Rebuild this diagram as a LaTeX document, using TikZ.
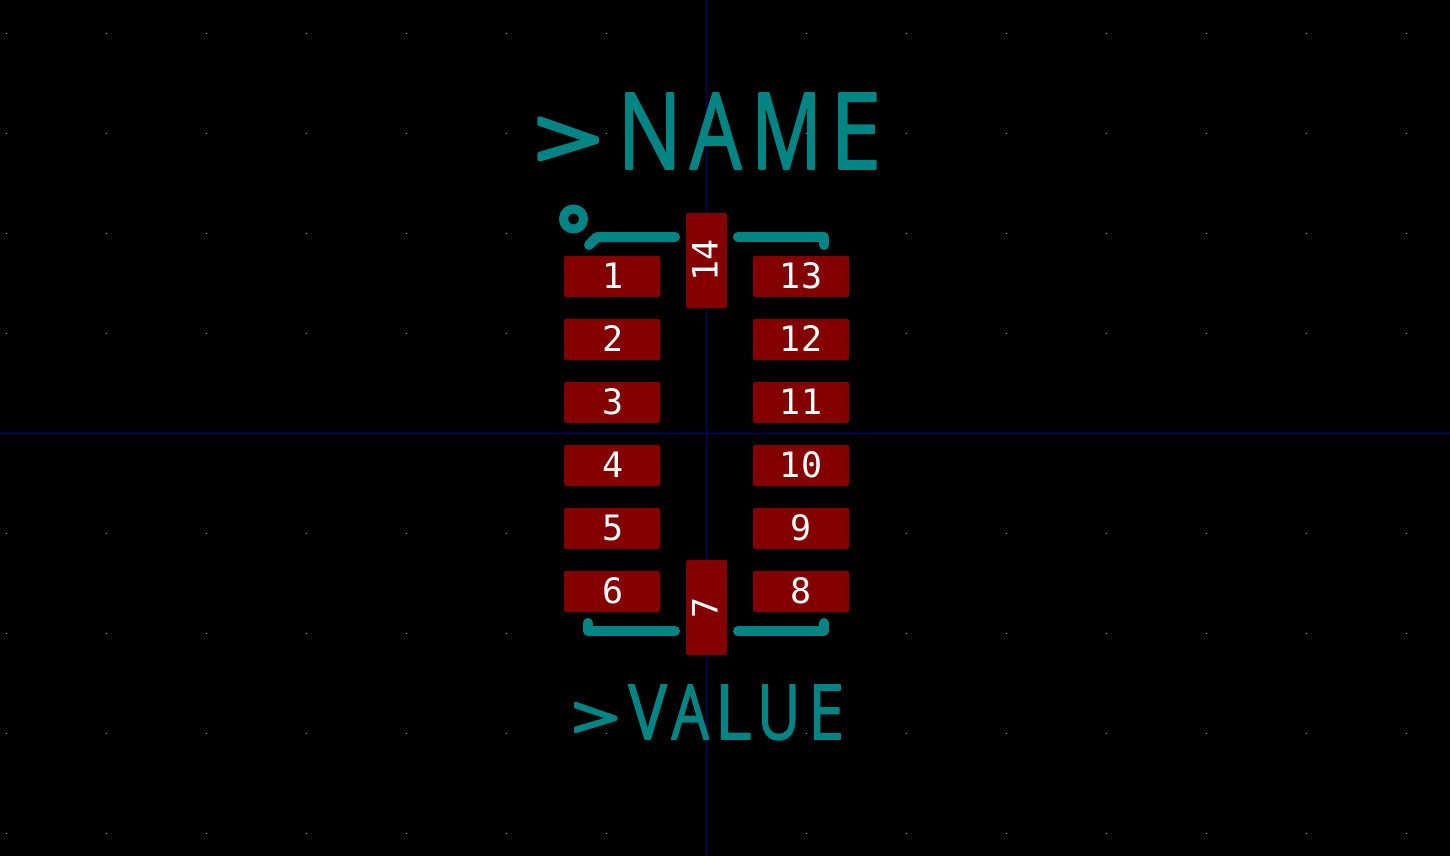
\documentclass[tikz,border=0pt]{standalone}
\usepackage{fontspec}
\usepackage{graphicx}
\setmainfont[FakeBold=2]{Open Sans}
\newfontfamily\gtfont[FakeBold=4]{Open Sans}
\newfontfamily\padfont{DejaVu Sans Mono}
\definecolor{padred}{RGB}{132,0,0}
\definecolor{silk}{RGB}{0,132,132}
\definecolor{axis}{RGB}{0,0,132}
\definecolor{griddot}{RGB}{160,160,160}
\newsavebox\gbox
% x-offset, baseline raise, ink width, ink height, glyph
\newcommand\gl[5]{\rlap{\kern#1\relax\raise#2\relax\hbox{\resizebox{#3}{#4}{\sbox\gbox{\kern-\XeTeXglyphbounds1 \XeTeXcharglyph`#5\relax #5\kern-\XeTeXglyphbounds3 \XeTeXcharglyph`#5\relax}\usebox\gbox}}}}
\tikzset{
  padbox/.style={draw=none,fill=padred,rounded corners=1.5pt,inner sep=0pt,minimum width=96pt,minimum height=41pt,text=white,font=\padfont\fontsize{35}{35}\selectfont},
  vpad/.style={padbox,minimum width=41pt,minimum height=95pt},
  silkline/.style={draw=silk,line width=10pt,line cap=round,line join=round},
  silktext/.style={anchor=base west,inner sep=0pt,text=silk,font=\fontsize{108}{108}\selectfont},
  axisline/.style={draw=axis,line width=1pt}
}
\begin{document}
\begin{tikzpicture}[x=1pt,y=-1pt]
\useasboundingbox (0,0) rectangle (1450,856);
\fill[black] (0,0) rectangle (1450,856);
\foreach \i in {0,...,14}{\foreach \j in {0,...,8}{
  \fill[griddot] ({6+100*\i},{33+100*\j}) rectangle ++(1,1);
}}
\coordinate (vt) at (706.5,0); \coordinate (vb) at (706.5,856);
\coordinate (hl) at (0,433.5); \coordinate (hr) at (1450,433.5);
\draw[axisline] (vt) -- (vb);
\draw[axisline] (hl) -- (hr);
% silkscreen
\draw[silk,line width=9pt] (573.5,219) circle (10);
\draw[silkline] (589,245) -- (597,237) -- (675,237);
\draw[silkline] (738,237) -- (824,237) -- (824,245);
\draw[silkline] (588,623) -- (588,631) -- (675,631);
\draw[silkline] (738,631) -- (824,631) -- (824,623);
% texts
\begin{scope}[line join=round,line cap=round]
\node[silktext] (name) at (537,170) {{\gtfont\gl{2pt}{0pt}{57pt}{52pt}{>}}\gl{88.3pt}{1.3pt}{47.4pt}{75.4pt}{N}\gl{152.3pt}{1.3pt}{51.4pt}{75.4pt}{A}\gl{221.3pt}{1.3pt}{55.4pt}{75.4pt}{M}\gl{301.3pt}{1.3pt}{36.8pt}{75.4pt}{E}};
\node[silktext,font=\fontsize{78}{78}\selectfont] (value) at (573,740) {{\gtfont\gl{2pt}{1pt}{40pt}{36pt}{>}}\gl{54.8pt}{0.8pt}{38.4pt}{54.4pt}{V}\gl{97.8pt}{0.8pt}{37.4pt}{54.4pt}{A}\gl{147.8pt}{0.8pt}{28.4pt}{54.4pt}{L}\gl{188.8pt}{0.8pt}{32.4pt}{54.4pt}{U}\gl{240.8pt}{0.8pt}{25.6pt}{54.4pt}{E}};
\end{scope}
% pads
\foreach \t/\y in {1/276.5,2/339.5,3/402.5,4/465.5,5/528.5,6/591.5}{
  \node[padbox] (p\t) at (612,\y) {\raisebox{2pt}{\kern1.4pt\t}};
}
\foreach \t/\y in {13/276.5,12/339.5,11/402.5,10/465.5,9/528.5,8/591.5}{
  \node[padbox] (p\t) at (801,\y) {\raisebox{2pt}{\t}};
}
\node[vpad] (p14) at (706.5,260.5) {\kern-3.5pt\rotatebox{90}{14}};
\node[vpad] (p7) at (706.5,607.5) {\kern-3.5pt\rotatebox{90}{7}};
\end{tikzpicture}
\end{document}
